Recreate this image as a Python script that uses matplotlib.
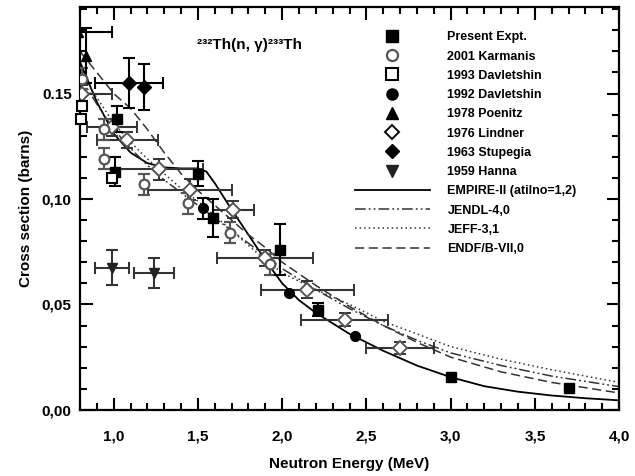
import numpy as np
import matplotlib
matplotlib.use("Agg")
import matplotlib.pyplot as plt
from matplotlib.lines import Line2D
from matplotlib.ticker import MultipleLocator, FixedLocator, FixedFormatter

plt.rcParams["font.family"] = ["Liberation Sans", "DejaVu Sans"]
plt.rcParams["font.weight"] = "bold"

nan = np.nan

# measured data: neutron energy (MeV), cross section (b), energy spread, uncertainty
present_e = [1.02, 1.01, 1.50, 1.59, 1.99, 2.21, 3.00, 3.70]
present_xs = [0.138, 0.113, 0.112, 0.091, 0.076, 0.0475, 0.0157, 0.0103]
present_de = [nan, nan, nan, nan, nan, nan, nan, nan]
present_dxs = [0.006, 0.007, 0.006, 0.009, 0.012, 0.003, nan, nan]

karmanis_e = [0.81, 0.94, 0.94, 1.18, 1.44, 1.69, 1.93]
karmanis_xs = [0.157, 0.133, 0.119, 0.107, 0.098, 0.084, 0.069]
karmanis_de = [nan, nan, nan, nan, nan, nan, nan]
karmanis_dxs = [0.005, 0.005, 0.005, 0.005, 0.005, 0.005, 0.005]

davl93_e = [0.81, 0.805, 0.99]
davl93_xs = [0.144, 0.138, 0.110]

davl92_e = [1.53, 2.04, 2.43]
davl92_xs = [0.0957, 0.0555, 0.0348]
davl92_dxs = [0.005, nan, nan]

poenitz_e = [0.835, 0.79]
poenitz_xs = [0.168, 0.179]
poenitz_de = [nan, 0.20]
poenitz_dxs = [0.013, nan]

lindner_e = [0.81, 0.99, 1.08, 1.27, 1.455, 1.71, 1.90, 2.15, 2.37, 2.70]
lindner_xs = [0.150, 0.134, 0.128, 0.114, 0.1045, 0.095, 0.072, 0.057, 0.0427, 0.0294]
lindner_de = [0.18, 0.15, 0.18, 0.26, 0.25, 0.12, 0.285, 0.275, 0.26, 0.20]
lindner_dxs = [0.004, 0.004, 0.004, 0.005, 0.005, 0.004, 0.004, 0.004, 0.003, 0.003]

stupegia_e = [1.09, 1.18]
stupegia_xs = [0.155, 0.153]
stupegia_de = [0.20, nan]
stupegia_dxs = [0.012, 0.011]

hanna_e = [0.99, 1.24]
hanna_xs = [0.0673, 0.065]
hanna_de = [0.10, 0.12]
hanna_dxs = [0.0083, 0.007]

# evaluated excitation functions
empire_e = [0.80, 0.90, 1.00, 1.10, 1.20, 1.30, 1.40, 1.50, 1.55, 1.60, 1.70,
            1.80, 1.90, 2.00, 2.10, 2.20, 2.40, 2.60, 2.80, 3.00, 3.20, 3.40,
            3.60, 3.80, 4.00]
empire_xs = [0.165, 0.146, 0.131, 0.122, 0.117, 0.115, 0.1145, 0.1145, 0.113,
             0.1075, 0.095, 0.083, 0.071, 0.060, 0.052, 0.046, 0.036, 0.028,
             0.021, 0.0155, 0.0112, 0.0086, 0.0068, 0.0055, 0.0045]

eval_e = [0.8, 0.9, 1.0, 1.1, 1.2, 1.3, 1.4, 1.5, 1.6, 1.7, 1.8, 1.9, 2.0,
          2.2, 2.4, 2.6, 2.8, 3.0, 3.3, 3.6, 4.0]
jendl_xs = [0.158, 0.145, 0.133, 0.124, 0.116, 0.109, 0.103, 0.097, 0.091,
            0.085, 0.079, 0.073, 0.067, 0.057, 0.048, 0.040, 0.033, 0.027,
            0.021, 0.016, 0.011]
jeff_xs = [0.160, 0.148, 0.136, 0.127, 0.119, 0.112, 0.105, 0.099, 0.092,
           0.085, 0.078, 0.071, 0.065, 0.057, 0.050, 0.042, 0.036, 0.030,
           0.024, 0.019, 0.013]
endf_xs = [0.170, 0.160, 0.150, 0.143, 0.133, 0.122, 0.112, 0.104, 0.097,
           0.090, 0.083, 0.077, 0.070, 0.059, 0.049, 0.040, 0.032, 0.025,
           0.018, 0.013, 0.008]

x_tick_vals = [1.0, 1.5, 2.0, 2.5, 3.0, 3.5, 4.0]
x_tick_labels = ["1,0", "1,5", "2,0", "2,5", "3,0", "3,5", "4,0"]
y_tick_vals = [0.00, 0.05, 0.10, 0.15]
y_tick_labels = ["0,00", "0,05", "0,10", "0.15"]

_GREY = "#555555"
_LS_JENDL = (0, (7, 2, 1.2, 2, 1.2, 2))
_LS_JEFF = (0, (1, 2))
_LS_ENDF = (0, (6, 3))


def arr(v):
    return np.array(v, dtype=float)


fig = plt.figure(figsize=(6.35, 4.76), dpi=100)
ax = fig.add_axes([0.126, 0.139, 0.849, 0.846])

# curves first so the symbols sit on top
ax.plot(empire_e, empire_xs, color="black", lw=1.3, ls="-")
ax.plot(eval_e, jendl_xs, color="#333333", lw=1.1, ls=_LS_JENDL)
ax.plot(eval_e, jeff_xs, color="#333333", lw=1.1, ls=_LS_JEFF)
ax.plot(eval_e, endf_xs, color="#333333", lw=1.1, ls=_LS_ENDF)

eb = dict(capsize=4, elinewidth=1.5, capthick=1.5, ms=7, zorder=3)
ax.errorbar(lindner_e, lindner_xs, xerr=arr(lindner_de), yerr=arr(lindner_dxs),
            fmt="D", mfc="white", mec=_GREY, mew=1.4, ecolor="#333333", **eb)
ax.errorbar(karmanis_e, karmanis_xs, yerr=arr(karmanis_dxs),
            fmt="o", mfc="white", mec=_GREY, mew=1.6, ecolor=_GREY, **eb)
ax.errorbar(hanna_e, hanna_xs, xerr=arr(hanna_de), yerr=arr(hanna_dxs),
            fmt="v", color="#222222", ecolor="#333333", **eb)
ax.errorbar(poenitz_e, poenitz_xs, xerr=arr(poenitz_de), yerr=arr(poenitz_dxs),
            fmt="^", color="black", **eb)
ax.errorbar(stupegia_e, stupegia_xs, xerr=arr(stupegia_de), yerr=arr(stupegia_dxs),
            fmt="D", color="black", **eb)
ax.errorbar(davl92_e, davl92_xs, yerr=arr(davl92_dxs),
            fmt="o", color="black", **eb)
ax.errorbar(present_e, present_xs, xerr=arr(present_de), yerr=arr(present_dxs),
            fmt="s", color="black", **eb)
ax.plot(davl93_e, davl93_xs, "s", mfc="white", mec="black", mew=1.5, ms=7,
        zorder=4, clip_on=False)

ax.text(0.3135, 0.906, "²³²Th(n, γ)²³³Th", transform=ax.transAxes,
        ha="center", va="center", fontsize=11, fontweight="bold")

ax.set_xlim(0.8, 4.0)
ax.set_ylim(0.0, 0.191)
ax.xaxis.set_major_locator(FixedLocator(x_tick_vals))
ax.xaxis.set_major_formatter(FixedFormatter(x_tick_labels))
ax.xaxis.set_minor_locator(MultipleLocator(0.1))
ax.yaxis.set_major_locator(FixedLocator(y_tick_vals))
ax.yaxis.set_major_formatter(FixedFormatter(y_tick_labels))
ax.yaxis.set_minor_locator(MultipleLocator(0.01))
ax.tick_params(which="both", direction="in", top=True, right=True, width=1.5)
ax.tick_params(which="major", length=9)
ax.tick_params(which="minor", length=5)
ax.tick_params(axis="x", which="major", pad=14, labelsize=11)
ax.tick_params(axis="y", which="major", pad=6, labelsize=11)
for spine in ax.spines.values():
    spine.set_linewidth(1.6)

ax.set_xlabel("Neutron Energy (MeV)", fontsize=11, fontweight="bold", labelpad=10)
ax.set_ylabel("Cross section (barns)", fontsize=11, fontweight="bold", labelpad=6)

handles = [
    Line2D([], [], ls="none", marker="s", color="black", ms=8),
    Line2D([], [], ls="none", marker="o", mfc="white", mec=_GREY, mew=1.6, ms=8),
    Line2D([], [], ls="none", marker="s", mfc="white", mec="black", mew=1.5, ms=8),
    Line2D([], [], ls="none", marker="o", color="black", ms=8),
    Line2D([], [], ls="none", marker="^", color="black", ms=8),
    Line2D([], [], ls="none", marker="D", mfc="white", mec="black", mew=1.4, ms=7),
    Line2D([], [], ls="none", marker="D", color="black", ms=7),
    Line2D([], [], ls="none", marker="v", color="#222222", ms=8),
    Line2D([], [], color="black", lw=1.3, ls="-"),
    Line2D([], [], color="#333333", lw=1.1, ls=_LS_JENDL),
    Line2D([], [], color="#333333", lw=1.1, ls=_LS_JEFF),
    Line2D([], [], color="#333333", lw=1.1, ls=_LS_ENDF),
]
labels = ["Present Expt.", "2001 Karmanis", "1993 Davletshin", "1992 Davletshin",
          "1978 Poenitz", "1976 Lindner", "1963 Stupegia", "1959 Hanna",
          "EMPIRE-II (atilno=1,2)", "JENDL-4,0", "JEFF-3,1", "ENDF/B-VII,0"]
ax.legend(handles, labels, loc="upper left", bbox_to_anchor=(0.51, 0.94),
          frameon=False, fontsize=9, handlelength=6.0, handletextpad=1.4,
          labelspacing=0.58, borderpad=0.0, borderaxespad=0.0)

fig.savefig("out.png", dpi=100)
